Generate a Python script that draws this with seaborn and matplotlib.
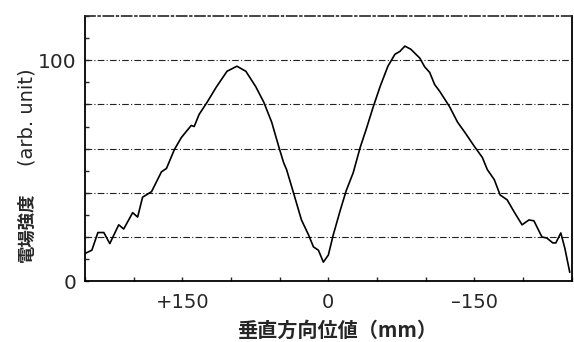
import numpy as np
import pandas as pd
import matplotlib
matplotlib.use('Agg')
import matplotlib.pyplot as plt
import seaborn as sns

# vertical position (mm) and field strength (arb. unit)
position_mm = [250, 242.9, 236.7, 230.6, 224.5, 215.3, 210.2, 201.0, 195.9, 190.8,
               181.6, 171.4, 166.3, 158.2, 151.0, 140.8, 137.8, 132.7, 124.5, 115.3,
               104.1, 93.9, 84.7, 74.5, 66.3, 58.2, 51.0, 45.9, 42.9, 37.8,
               27.6, 20.4, 15.3, 10.2, 5.1, 0.0, -5.1, -12.2, -18.4, -25.5,
               -32.7, -38.8, -45.9, -53.1, -61.2, -68.4, -73.5, -78.6, -84.7, -93.9,
               -99.0, -104.1, -109.2, -114.3, -124.5, -132.7, -140.8, -150.0, -158.2, -163.3,
               -170.4, -176.5, -183.7, -190.8, -199.0, -206.1, -211.2, -219.4, -224.5, -230.6,
               -233.7, -238.8, -242.9, -248.0]
field_strength = [12.5, 14, 22, 22, 17, 25.5, 23.6, 31, 29, 38,
                  40.5, 49.5, 51, 59.5, 65, 70.5, 70, 75.5, 81, 87.7,
                  95, 97.3, 95, 88, 81, 72, 61, 53.6, 50.5, 43,
                  27.7, 21, 15.5, 14, 8.6, 11.8, 21, 32, 41, 49,
                  60.5, 68.6, 78.6, 88, 97.3, 102.7, 104, 106.4, 105, 101,
                  97, 94.5, 89, 86, 79, 72, 67, 61, 56, 50.5,
                  46, 39, 36.8, 31.4, 25.5, 27.7, 27.3, 20, 19.5, 17.3,
                  17.3, 21.8, 15, 4]

x_ticks = [250, 200, 150, 100, 50, 0, -50, -100, -150, -200, -250]
x_tick_labels = ['', '', '+150', '', '', '0', '', '', '\u2013150', '', '']
y_ticks = list(range(0, 121, 10))
y_tick_labels = ['0', '', '', '', '', '', '', '', '', '', '100', '', '']
grid_levels = [20, 40, 60, 80, 100]

df = pd.DataFrame({'pos': position_mm, 'field': field_strength})

sns.set_style('ticks')
plt.rcParams['font.family'] = ['Noto Sans CJK JP', 'DejaVu Sans']

fig = plt.figure(figsize=(5.74, 3.42), dpi=100)
ax = fig.add_axes([0.148, 0.178, 0.848, 0.775])

dashdot = (0, (6, 2, 1, 2))
for lvl in grid_levels:
    ax.axhline(lvl, color='#222222', lw=0.8, ls=dashdot, zorder=1)

sns.lineplot(data=df, x='pos', y='field', ax=ax, color='black', lw=1.2,
             sort=False, estimator=None, zorder=3)

ax.set_xlim(250, -250)
ax.set_ylim(0, 120)
ax.set_xticks(x_ticks)
ax.set_xticklabels(x_tick_labels, fontsize=14, family='DejaVu Sans')
ax.set_yticks(y_ticks)
ax.set_yticklabels(y_tick_labels, fontsize=14.5, family='DejaVu Sans')
ax.tick_params(direction='in', length=3, width=1)
ax.tick_params(axis='x', pad=8.5)
ax.tick_params(axis='y', pad=6)

for side in ['left', 'bottom', 'right']:
    ax.spines[side].set_linewidth(1.3)
    ax.spines[side].set_color('black')
ax.spines['top'].set_linestyle(dashdot)
ax.spines['top'].set_linewidth(1.2)

ax.set_xlabel('垂直方向位値（mm）', fontsize=14.5, fontweight='bold')
ax.xaxis.set_label_coords(0.517, -0.145)
ax.set_ylabel('')

# y label: bold kanji plus a lighter latin part, as in the scan
fig.text(0.047, 0.335, '電場強度', rotation=90, ha='center', va='center',
         fontsize=12.5, fontweight='bold', family='Noto Sans CJK JP')
fig.text(0.047, 0.656, '(arb. unit)', rotation=90, ha='center', va='center',
         fontsize=14, family='DejaVu Sans')

fig.savefig('out.png', dpi=100)
